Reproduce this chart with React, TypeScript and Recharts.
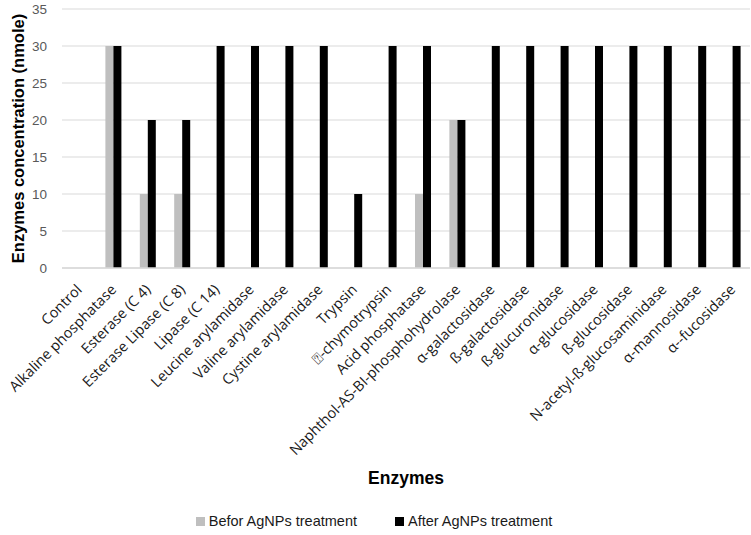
import React from 'react'
import { Bar, BarChart, CartesianGrid, Legend, XAxis, YAxis } from 'recharts'

const enzymes = [
  'Control',
  'Alkaline phosphatase',
  'Esterase (C 4)',
  'Esterase Lipase (C 8)',
  'Lipase (C 14)',
  'Leucine arylamidase',
  'Valine arylamidase',
  'Cystine arylamidase',
  'Trypsin',
  '\u2370-chymotrypsin',
  'Acid phosphatase',
  'Naphthol-AS-BI-phosphohydrolase',
  'α-galactosidase',
  'ß-galactosidase',
  'ß-glucuronidase',
  'α-glucosidase',
  'ß-glucosidase',
  'N-acetyl-ß-glucosaminidase',
  'α-mannosidase',
  'α--fucosidase',
]
const beforeValues = [0, 30, 10, 10, 0, 0, 0, 0, 0, 0, 10, 20, 0, 0, 0, 0, 0, 0, 0, 0]
const afterValues = [0, 30, 20, 20, 30, 30, 30, 30, 10, 30, 30, 20, 30, 30, 30, 30, 30, 30, 30, 30]
const yTicks = [0, 5, 10, 15, 20, 25, 30, 35]

const chartData = enzymes.map((name, i) => ({
  name,
  before: beforeValues[i],
  after: afterValues[i],
}))

const FONT = '"Liberation Sans", Arial, sans-serif'

// rotated category labels, ending just under the tick
const EnzymeTick = (props: any) => {
  const { x, y, payload } = props
  return (
    <g transform={`translate(${x},${y + 11})`}>
      <text
        transform="rotate(-45)"
        textAnchor="end"
        fill="#1a1a1a"
        fontSize={14.5}
        fontFamily='"Open Sans", sans-serif'
        dy={5}
      >
        {payload.value}
      </text>
    </g>
  )
}

const LegendBox = () => (
  <div
    style={{
      display: 'flex',
      justifyContent: 'center',
      gap: 38,
      fontFamily: FONT,
      fontSize: 14.5,
      color: '#1a1a1a',
      paddingRight: 2,
    }}
  >
    <span style={{ display: 'flex', alignItems: 'center' }}>
      <span style={{ width: 9, height: 9, background: '#bfbfbf', marginRight: 4 }} />
      Befor AgNPs treatment
    </span>
    <span style={{ display: 'flex', alignItems: 'center' }}>
      <span style={{ width: 9, height: 9, background: '#000000', marginRight: 4 }} />
      After AgNPs treatment
    </span>
  </div>
)

const App = () => {
  return (
    <div style={{ position: 'absolute', left: 0, top: 0, width: 751, height: 535, background: '#fff' }}>
      <BarChart
        width={751}
        height={535}
        data={chartData}
        margin={{ top: 9, right: 1, bottom: 0, left: 0 }}
        barGap={0}
        barSize={8}
      >
        <CartesianGrid vertical={false} stroke="#d9d9d9" />
        <XAxis
          dataKey="name"
          interval={0}
          height={237}
          tick={<EnzymeTick />}
          tickLine={false}
          axisLine={{ stroke: '#d9d9d9', strokeWidth: 1.5 }}
          label={{
            value: 'Enzymes',
            position: 'insideBottom',
            offset: 21,
            fill: '#000',
            fontSize: 17.5,
            fontWeight: 'bold',
            fontFamily: FONT,
          }}
        />
        <YAxis
          width={62}
          domain={[0, 35]}
          ticks={yTicks}
          axisLine={false}
          tickLine={false}
          tickMargin={9}
          tick={{ fill: '#595959', fontSize: 13.5, fontFamily: FONT }}
          label={{
            value: 'Enzymes concentration (nmole)',
            angle: -90,
            position: 'center',
            dx: -13,
            fill: '#000',
            fontSize: 16.5,
            fontWeight: 'bold',
            fontFamily: FONT,
          }}
        />
        <Legend verticalAlign="bottom" height={30} wrapperStyle={{ top: 513 }} content={<LegendBox />} />
        <Bar dataKey="before" name="Befor AgNPs treatment" fill="#bfbfbf" isAnimationActive={false} />
        <Bar dataKey="after" name="After AgNPs treatment" fill="#000000" isAnimationActive={false} />
      </BarChart>
    </div>
  )
}

export default App
